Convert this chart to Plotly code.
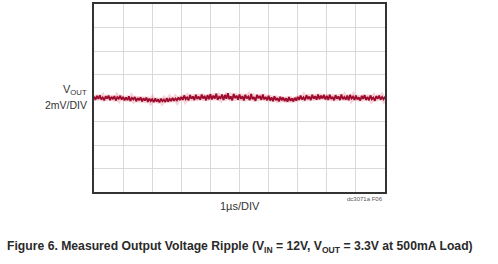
import numpy as np
import plotly.graph_objects as go

# Output ripple samples (mV, AC coupled), 10 us span
vout_mv = [
    0.12,-0.15,0.18,-0.08,0.22,-0.12,0.05,-0.2,0.15,-0.05,0.2,-0.18,0.1,-0.1,0.16,-0.22,0.08,-0.06,0.19,-0.14,
    0.1,-0.2,0.05,-0.18,0.14,-0.25,0.02,-0.12,0.08,-0.28,0.0,-0.2,0.06,-0.3,-0.02,-0.22,0.04,-0.34,-0.05,-0.26,
    -0.1,-0.36,-0.04,-0.3,-0.12,-0.38,-0.06,-0.28,-0.14,-0.34,-0.02,-0.3,-0.08,-0.26,0.02,-0.24,-0.04,-0.2,0.06,-0.18,
    0.1,-0.16,0.22,-0.1,0.05,-0.2,0.25,-0.06,0.14,-0.18,0.28,-0.08,0.12,-0.14,0.3,-0.04,0.18,-0.2,0.24,-0.1,
    0.32,-0.12,0.2,-0.05,0.36,-0.15,0.1,-0.02,0.3,-0.18,0.26,-0.06,0.4,-0.1,0.14,-0.2,0.34,0.0,0.2,-0.14,
    0.3,-0.08,0.16,-0.22,0.28,-0.04,0.12,-0.18,0.34,-0.1,0.08,-0.24,0.26,-0.02,0.18,-0.16,0.3,-0.12,0.1,-0.2,
    0.2,-0.22,0.06,-0.28,0.14,-0.18,0.0,-0.3,0.1,-0.2,0.04,-0.26,-0.02,-0.32,0.08,-0.24,-0.04,-0.3,0.02,-0.22,
    0.1,-0.16,0.2,-0.12,0.06,-0.2,0.24,-0.08,0.12,-0.18,0.28,-0.06,0.16,-0.14,0.3,-0.1,0.2,-0.04,0.26,-0.12,
    0.18,-0.16,0.28,-0.08,0.1,-0.2,0.24,-0.06,0.14,-0.18,0.3,-0.1,0.08,-0.14,0.22,-0.2,0.26,-0.04,0.12,-0.16,
    0.2,-0.12,0.06,-0.22,0.18,-0.08,0.24,-0.16,0.1,-0.2,0.22,-0.1,0.04,-0.24,0.16,-0.06,0.2,-0.14,0.08,-0.1,0.12,
]
time_us = np.linspace(0, 10, len(vout_mv))  # uniform sampling grid

x_divs = 10          # 1 us/DIV
y_divs = 8           # 2 mV/DIV
mv_per_div = 2

font_n = "Liberation Sans Narrow, Liberation Sans, Arial, sans-serif"

fig = go.Figure()
fig.add_trace(go.Scatter(x=time_us, y=vout_mv, mode="lines",
                         line=dict(color="rgba(225,130,140,0.35)", width=6),
                         hoverinfo="skip", showlegend=False))
fig.add_trace(go.Scatter(x=time_us, y=vout_mv, mode="lines",
                         line=dict(color="#9e0b2f", width=1.8),
                         showlegend=False))

half = y_divs / 2 * mv_per_div
fig.update_layout(
    width=498, height=264,
    margin=dict(l=94, r=113, t=2, b=72),
    paper_bgcolor="white", plot_bgcolor="white",
    xaxis=dict(range=[0, x_divs], dtick=1, showticklabels=False, ticks="",
               showgrid=True, gridcolor="#d9d9d9", gridwidth=1, zeroline=False,
               showline=True, linecolor="#333333", linewidth=2, mirror=True),
    yaxis=dict(range=[-half, half], dtick=mv_per_div, showticklabels=False, ticks="",
               showgrid=True, gridcolor="#d9d9d9", gridwidth=1, zeroline=False,
               showline=True, linecolor="#333333", linewidth=2, mirror=True),
    annotations=[
        dict(text="V<sub>OUT</sub>", xref="paper", yref="y", x=0, y=0, xanchor="right",
             xshift=-5, yanchor="bottom", yshift=-1, showarrow=False,
             font=dict(family=font_n, size=11, color="#333333")),
        dict(text="2mV/DIV", xref="paper", yref="y", x=0, y=0, xanchor="right",
             xshift=-5, yanchor="top", yshift=1, showarrow=False,
             font=dict(family=font_n, size=10.5, color="#333333")),
        dict(text="1µs/DIV", xref="paper", yref="paper", x=0.5, y=0, yanchor="top",
             yshift=-6, showarrow=False,
             font=dict(family=font_n, size=11, color="#333333")),
        dict(text="dc3071a F06", xref="paper", yref="paper", x=1, xanchor="right",
             y=0, yanchor="top", yshift=-2, showarrow=False,
             font=dict(family=font_n, size=6, color="#555555")),
        dict(text="<b>Figure 6. Measured Output Voltage Ripple (V<sub>IN</sub> = 12V, V<sub>OUT</sub> = 3.3V at 500mA Load)</b>",
             xref="paper", yref="paper", x=-94/291, xanchor="left", xshift=5,
             y=0, yanchor="top", yshift=-45, showarrow=False,
             font=dict(family=font_n, size=12.2, color="#2a2a2a")),
    ],
)

fig.write_html("out.html")
